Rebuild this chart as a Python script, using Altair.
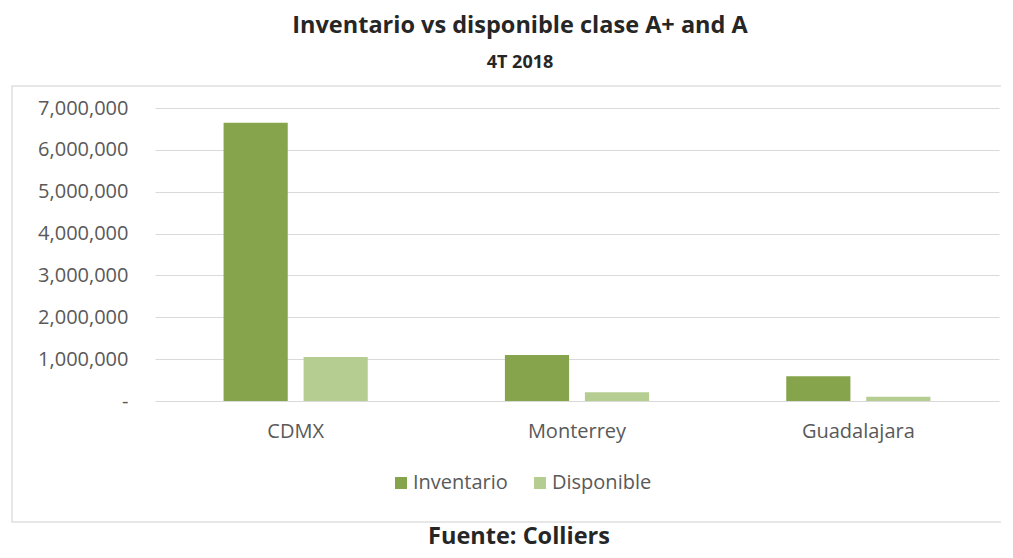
import altair as alt
import pandas as pd

# ---- data ----
cities = ["CDMX", "Monterrey", "Guadalajara"]
series = ["Inventario", "Disponible"]
inventario = [6650000, 1100000, 590000]
disponible = [1050000, 210000, 100000]
title_text = "Inventario vs disponible clase A+ and A"
subtitle_text = "4T 2018"
footer = ["Fuente: Colliers"]
y_ticks = [0, 1000000, 2000000, 3000000, 4000000, 5000000, 6000000, 7000000]
colors = ["#86A44B", "#B6CD92"]

rows = []
for c, a, b in zip(cities, inventario, disponible):
    rows.append({"Ciudad": c, "Serie": series[0], "Valor": a})
    rows.append({"Ciudad": c, "Serie": series[1], "Valor": b})
df = pd.DataFrame(rows)

FONT = "Open Sans"
W, H = 844, 293

bars = alt.Chart(df).mark_bar().encode(
    x=alt.X("Ciudad:N", sort=cities, title=None,
            scale=alt.Scale(paddingInner=0.4875, paddingOuter=0.24375),
            axis=alt.Axis(labelAngle=0, ticks=False, domain=False, labelPadding=20,
                          labelFontSize=20, labelColor="#595959", labelFont=FONT)),
    xOffset=alt.XOffset("Serie:N", sort=series, scale=alt.Scale(paddingInner=0.198)),
    y=alt.Y("Valor:Q", title=None,
            scale=alt.Scale(domain=[0, 7000000]),
            axis=alt.Axis(values=y_ticks, ticks=False, domain=False, labelPadding=27,
                          labelFontSize=20, labelColor="#595959", labelFont=FONT,
                          gridColor="#d9d9d9", gridWidth=1,
                          labelExpr="datum.value == 0 ? '-' : format(datum.value, ',')")),
    color=alt.Color("Serie:N", sort=series,
                    scale=alt.Scale(domain=series, range=colors),
                    legend=alt.Legend(title=None, orient="none", direction="horizontal",
                                      legendX=236, legendY=365, symbolType="square",
                                      symbolSize=144, symbolStrokeWidth=0,
                                      labelFontSize=20, labelColor="#595959", labelFont=FONT,
                                      columnPadding=22, labelOffset=2)),
)

frame = alt.Chart(pd.DataFrame({"k": [1]})).mark_rect(
    fill=None, stroke="#e0e0e0", strokeWidth=1.5
).encode(x=alt.value(-143), x2=alt.value(858), y=alt.value(-22), y2=alt.value(414))

foot = alt.Chart(pd.DataFrame({"t": footer})).mark_text(
    font=FONT, fontSize=23.5, fontWeight="bold", color="#262626", baseline="alphabetic"
).encode(text="t:N", x=alt.value(364), y=alt.value(436))

chart = alt.layer(frame, bars, foot).properties(
    width=W, height=H,
    padding={"left": 147, "top": 100, "right": 2, "bottom": 149},
    autosize=alt.AutoSizeParams(type="none"),
    title=alt.TitleParams(text=title_text, subtitle=subtitle_text,
                          font=FONT, fontSize=23.5, fontWeight="bold", color="#262626",
                          subtitleFont=FONT, subtitleFontSize=18, subtitleFontWeight="bold",
                          subtitleColor="#262626", subtitlePadding=17,
                          anchor="middle", frame="group", offset=13, dx=-57),
).configure_view(stroke=None)

chart.save("out.html", embed_options={"renderer": "svg", "actions": False})
